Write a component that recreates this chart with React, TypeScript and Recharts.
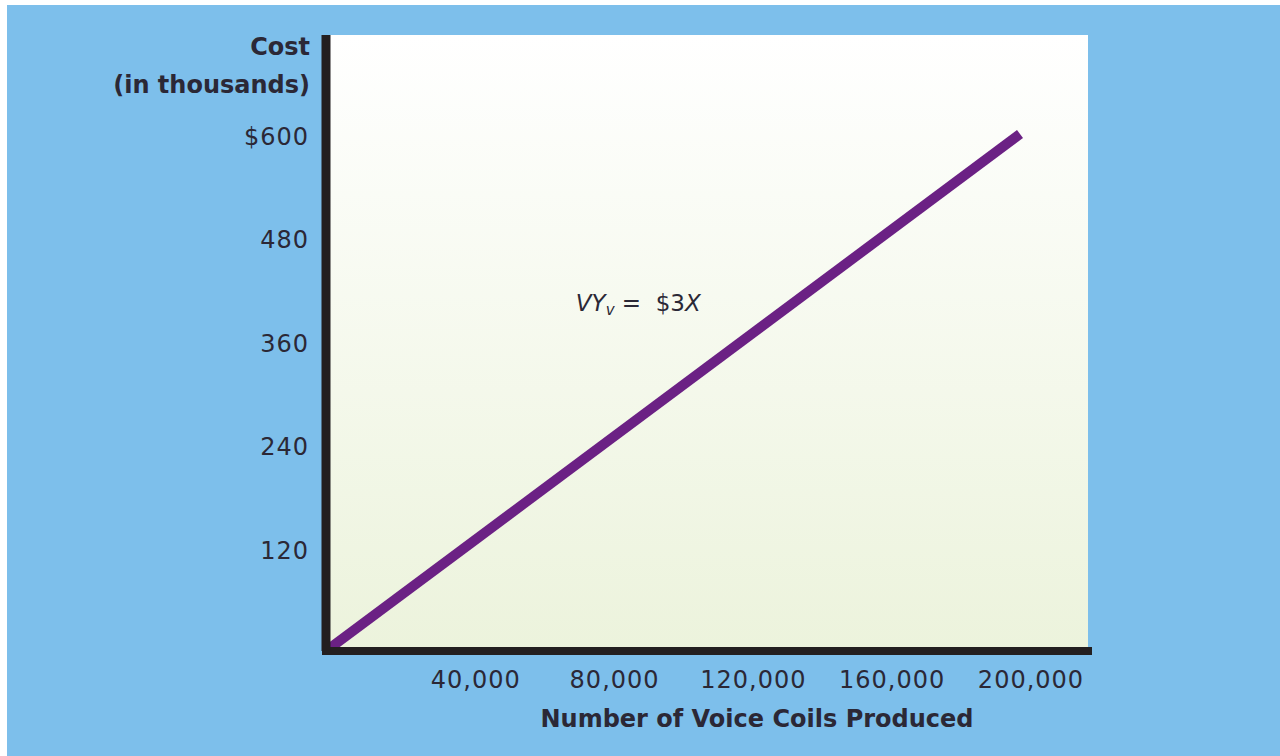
import { LineChart, Line, XAxis, YAxis, ReferenceArea, ReferenceDot } from 'recharts';

// Variable cost: $3 per voice coil, cost in thousands
const units = [0, 200000];
const costs = [0, 600];
const xTicks = [40000, 80000, 120000, 160000, 200000];
const yTicks = [120, 240, 360, 480, 600];
const xMax = 219600;
const yMax = 715;

const data = units.map((u, i) => ({ units: u, cost: costs[i] }));

const INK = '#2b2836';
const FONT = '"DejaVu Sans", sans-serif';

const XTick = ({ x, y, payload }: any) => (
  <text x={x + 11} y={y + 27} textAnchor="middle" dominantBaseline="central"
    fill={INK} fontFamily={FONT} fontSize={24} letterSpacing={1}>
    {payload.value.toLocaleString('en-US')}
  </text>
);

const YTick = ({ x, y, payload }: any) => (
  <text x={x} y={y + 3} textAnchor="end" dominantBaseline="central"
    fill={INK} fontFamily={FONT} fontSize={24} letterSpacing={1}>
    {payload.value === 600 ? '$600' : payload.value}
  </text>
);

export default function App() {
  return (
    <div style={{ position: 'absolute', left: 7, top: 5, width: 1273, height: 751, background: '#7dbfeb' }}>
      <LineChart width={1273} height={751} data={data} margin={{ top: 30, right: 192, bottom: 0, left: 0 }}>
        <defs>
          <linearGradient id="plotBg" x1="0" y1="0" x2="0" y2="1">
            <stop offset="0%" stopColor="#ffffff" />
            <stop offset="100%" stopColor="#ecf3dc" />
          </linearGradient>
        </defs>
        <ReferenceArea x1={0} x2={xMax} y1={0} y2={yMax} fill="url(#plotBg)" fillOpacity={1} stroke="none" />
        <XAxis
          type="number"
          dataKey="units"
          domain={[0, xMax]}
          ticks={xTicks}
          height={105}
          tickLine={false}
          tickSize={0}
          tick={<XTick />}
          axisLine={{ stroke: '#231f20', strokeWidth: 8, strokeLinecap: 'square' }}
          label={{
            content: ({ viewBox }: any) => (
              <text x={viewBox.x + viewBox.width / 2 + 50} y={viewBox.y + 68} textAnchor="middle"
                dominantBaseline="central" fill={INK} fontFamily={FONT} fontSize={24} fontWeight="bold">
                Number of Voice Coils Produced
              </text>
            ),
          }}
        />
        <YAxis
          type="number"
          domain={[0, yMax]}
          ticks={yTicks}
          width={319}
          tickLine={false}
          tickSize={0}
          tickMargin={17}
          tick={<YTick />}
          axisLine={{ stroke: '#231f20', strokeWidth: 9 }}
          label={{
            content: ({ viewBox }: any) => (
              <text textAnchor="end" fill={INK} fontFamily={FONT} fontSize={24} fontWeight="bold">
                <tspan x={viewBox.x + viewBox.width - 16} y={50}>Cost</tspan>
                <tspan x={viewBox.x + viewBox.width - 16} y={88}>(in thousands)</tspan>
              </text>
            ),
          }}
        />
        <Line
          dataKey="cost"
          type="linear"
          stroke="#6b2184"
          strokeWidth={10}
          dot={false}
          activeDot={false}
          isAnimationActive={false}
        />
        <ReferenceDot
          x={72000}
          y={404}
          r={0}
          fill="none"
          stroke="none"
          label={{
            content: ({ viewBox }: any) => (
              <text x={viewBox.x} y={viewBox.y} dominantBaseline="central" fill={INK} fontFamily={FONT} fontSize={23}>
                <tspan fontStyle="italic">VY</tspan>
                <tspan fontStyle="italic" fontSize={15} dy={7}>v</tspan>
                <tspan dy={-7}>{' = \u00a0$3'}</tspan>
                <tspan fontStyle="italic">X</tspan>
              </text>
            ),
          }}
        />
      </LineChart>
    </div>
  );
}
